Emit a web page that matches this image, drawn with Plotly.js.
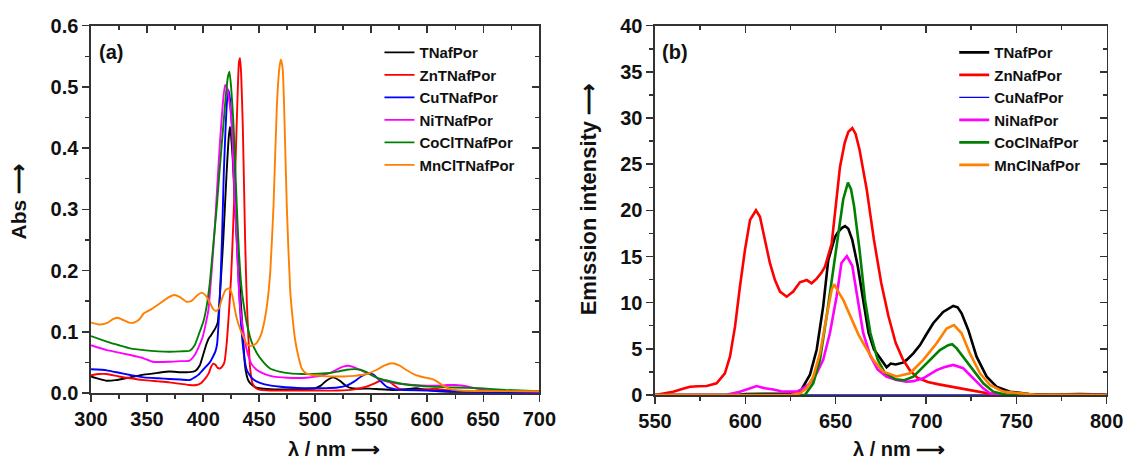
<!DOCTYPE html>
<html>
<head>
<meta charset="utf-8">
<script src="https://cdn.plot.ly/plotly-3.0.1.min.js"></script>
<style>html,body{margin:0;padding:0;background:#fff;}#chart{width:1125px;height:463px;}</style>
</head>
<body>
<div id="chart"></div>
<script>
// ---------- Panel (a): absorption ----------
const absNames = ['TNafPor','ZnTNafPor','CuTNafPor','NiTNafPor','CoClTNafPor','MnClTNafPor'];

const absX_T = [300,307,314,322,335,347,360,370,380,388,393,397,400,403,405,407,409,411,413,415,418,421,423,424,425,426.5,428.6,431,433,435,437.5,440,442,446,450,460,480,500,505,510,516,522,528,533,540,549,558,570,580,590,600,620,650,700];
const absY_T = [0.027,0.023,0.020,0.021,0.0256,0.030,0.033,0.035,0.034,0.034,0.036,0.045,0.062,0.080,0.089,0.094,0.100,0.106,0.115,0.16,0.25,0.36,0.42,0.435,0.42,0.38,0.30,0.23,0.168,0.11,0.043,0.022,0.016,0.010,0.0077,0.006,0.006,0.0077,0.012,0.020,0.0256,0.020,0.011,0.0077,0.007,0.0072,0.006,0.005,0.006,0.008,0.005,0.002,0.002,0.001];

const absX_Zn = [300,307,314,325,335,347,360,370,380,388,394,398,402,405,407,409,411,413,415,417,419,421,423,425,427,429,430.5,432,433,434,435.5,437.5,439,440.5,442,444,447,451,460,480,500,520,535,545,552,558,562,566,570,575,580,590,600,607,615,630,650,700];
const absY_Zn = [0.029,0.031,0.031,0.027,0.024,0.021,0.019,0.0174,0.015,0.013,0.013,0.016,0.024,0.032,0.042,0.048,0.046,0.041,0.040,0.043,0.05,0.08,0.13,0.19,0.28,0.38,0.47,0.54,0.547,0.52,0.43,0.25,0.15,0.087,0.04,0.016,0.008,0.005,0.004,0.004,0.004,0.004,0.006,0.010,0.015,0.020,0.021,0.019,0.013,0.007,0.005,0.005,0.006,0.007,0.005,0.003,0.003,0.002];

const absX_Cu = [300,314,325,335,347,360,370,380,388,392.5,396,400,403,406,409,411,412.5,414,415.5,417,418.5,420,421.5,422.6,424,425.5,426.5,428,430,432,434.5,437,439,442,445,448,455,469,490,510,520,528,535,541,547.6,552,558,564,572,580,600,640,700];
const absY_Cu = [0.0387,0.037,0.033,0.0294,0.0256,0.024,0.0229,0.022,0.0212,0.0256,0.030,0.038,0.044,0.050,0.060,0.068,0.08,0.12,0.18,0.26,0.36,0.43,0.48,0.495,0.48,0.44,0.41,0.35,0.25,0.17,0.0975,0.055,0.0376,0.028,0.022,0.0185,0.014,0.0103,0.008,0.008,0.009,0.012,0.019,0.027,0.032,0.030,0.020,0.010,0.006,0.005,0.004,0.002,0.001];

const absX_Ni = [300,314,325,335,347,355,370,380,388,392.5,396,399.7,402,404.8,406.3,408.5,410.7,413,415.2,417.5,419.6,421.5,423.5,425.6,427,428.6,431,433,436,439,443,448,455,463,475,484,492,500,507,513,520,525,529.7,535,540,546,552,558,566,575,588,600,610,618,625,635,647,660,700];
const absY_Ni = [0.078,0.070,0.066,0.062,0.0567,0.051,0.051,0.052,0.053,0.062,0.075,0.092,0.11,0.136,0.168,0.22,0.277,0.35,0.413,0.47,0.503,0.498,0.475,0.44,0.37,0.304,0.21,0.141,0.1,0.07,0.048,0.0376,0.031,0.0267,0.025,0.0245,0.025,0.0267,0.029,0.0327,0.039,0.043,0.0446,0.042,0.038,0.033,0.028,0.022,0.018,0.015,0.013,0.012,0.012,0.013,0.013,0.011,0.006,0.004,0.002];

const absX_Co = [300,314,325,335,347,360,370,380,388,392.5,397,400,403,406,409,412.2,415,418.2,420.5,422,423.5,425,427.1,430.1,432,434.5,437,439,443,448,454,459.8,468,477.7,488,498.5,513,520,528,535,540,546,552,560,572.6,585,602.7,625,647,670,700];
const absY_Co = [0.093,0.084,0.078,0.073,0.070,0.068,0.0675,0.068,0.069,0.078,0.10,0.115,0.14,0.18,0.24,0.304,0.37,0.44,0.49,0.515,0.525,0.50,0.44,0.304,0.23,0.168,0.135,0.114,0.085,0.065,0.05,0.040,0.035,0.032,0.031,0.031,0.0327,0.035,0.038,0.039,0.038,0.034,0.0277,0.022,0.0168,0.013,0.0104,0.009,0.0077,0.005,0.003];

const absX_Mn = [300,307,314,320,324,329,334,338,343,347,354,361.6,368,374.4,379,385.4,390,395,398.8,402,406,409,411.6,414,417,420,423.5,426,428,430,433,436,438,440.5,443,446.4,449,452,455,457.5,460,462.8,465.8,468,469.4,471,472.3,474.7,477.7,480,482.1,485,488,492,497,505,515,525,535,546,555,562,568.5,575,581,587.8,594,600,604,608.6,614,620.5,630,650,700];
const absY_Mn = [0.115,0.112,0.114,0.121,0.123,0.119,0.115,0.1148,0.12,0.130,0.137,0.1465,0.155,0.160,0.157,0.149,0.151,0.160,0.164,0.160,0.148,0.137,0.134,0.138,0.155,0.168,0.171,0.16,0.14,0.122,0.105,0.092,0.083,0.078,0.077,0.0795,0.085,0.097,0.12,0.15,0.2,0.304,0.468,0.53,0.545,0.53,0.468,0.304,0.168,0.12,0.087,0.06,0.040,0.032,0.0294,0.028,0.027,0.027,0.028,0.031,0.038,0.045,0.0485,0.045,0.038,0.031,0.027,0.0245,0.023,0.019,0.012,0.0065,0.004,0.003,0.003];

// ---------- Panel (b): emission ----------
const emNames = ['TNafPor','ZnNafPor','CuNafPor','NiNafPor','CoClNafPor','MnClNafPor'];

const emX_T = [550,595,600,615,630,632,635.8,639.5,643.1,645.9,649.6,651.2,653.5,655.2,657,659.2,662.2,665.2,668.2,671.2,675.2,678.2,680.5,683.2,687.2,689.3,693,696.7,700,704,709.5,713,715.1,717.5,719.7,723.4,728,733.6,739,746.5,757,770,785,800];
const emY_T = [0,0,0.1,0.15,0.15,0.9,2.2,4.9,9.6,14.6,17.1,17.6,18.1,18.3,18.0,16.8,14.0,10.35,6.74,4.94,3.86,3.0,3.4,3.3,3.5,3.8,4.5,5.4,6.5,7.77,9.0,9.4,9.64,9.5,8.85,7.04,4.15,1.98,0.9,0.36,0.1,0.05,0.1,0.05];

const emX_Zn = [550,555,560.1,565,569.4,574,578.6,584.1,588.7,591.5,594.3,597,599.8,602.6,605.9,608.1,610.9,613.6,616.4,619.2,622.9,626.5,630.2,634,636.7,639.5,642,644.1,647.8,650,652.4,655,657,659.2,661,663.2,667.2,671.2,675.2,679.2,683.2,687.2,691,695.2,701,707.1,717.1,727.1,737,745,800];
const emY_Zn = [0,0.15,0.36,0.65,0.9,0.95,0.97,1.26,2.35,4.15,7.4,11.7,15.7,18.95,20.0,19.3,16.8,14.3,12.45,11.2,10.65,11.2,12.2,12.45,12.1,12.6,13.2,13.9,16.4,20.5,24.7,27.3,28.5,28.9,28.3,26.6,22.25,16.8,12.15,8.55,5.66,3.86,2.7,1.88,1.4,1.15,0.79,0.43,0.07,0,0];

const emX_Cu = [550,800];
const emY_Cu = [0,0];

const emX_Ni = [550,590,597,602.6,606.3,610.9,615.5,621,628.4,632,635.8,639.5,643.1,646.8,650.5,653.2,656.2,659.2,662.2,665.2,669.2,673.2,678,683.7,689.3,693,698.5,705.9,710,715.1,720.6,726.1,731.7,735.4,740,800];
const emY_Ni = [0,0.05,0.36,0.72,0.97,0.72,0.6,0.36,0.36,0.72,1.26,2.35,3.8,6.68,10.65,14.3,15.04,14.0,10.35,6.74,4.22,2.78,2.0,1.62,1.44,1.5,1.8,2.7,3.0,3.25,2.9,1.8,0.72,0.18,0,0];

const emX_Co = [550,633,637.6,641.3,645,648.7,652.4,654.2,656.8,658.5,660.2,663.2,666.2,669.2,673.2,677.2,683.2,688,693,696.7,702.2,707.7,712.3,714.5,717,720.6,726.1,731.7,737.2,745,800];
const emY_Co = [0,0,1.26,3.8,8.5,13.5,18.95,21.2,23.0,22.3,20.45,15.76,10.35,6.74,3.86,2.4,1.7,1.6,1.98,2.7,3.8,4.87,5.4,5.5,5.05,4.15,2.7,1.26,0.36,0,0];

const emX_Mn = [550,625,630.2,634,637.6,641.3,645,647.8,649.2,650.5,652,654.2,657,659.7,662.5,665.3,670.8,676.3,683.7,691.1,698.5,705.9,711.4,715.5,719.7,724.3,729.9,735.4,742.8,760,800];
const emY_Mn = [0,0,0.18,0.72,1.98,4.5,8.5,11.4,12.0,11.6,11.0,10.3,9.0,7.77,6.6,5.6,3.8,2.53,2.0,2.35,3.8,5.6,7.2,7.58,6.68,4.5,2.35,1.08,0.36,0.05,0];

const colors = ['#000000','#ff0000','#0000ff','#ff00ff','#008000','#ff8000'];

const absXs = [absX_T,absX_Zn,absX_Cu,absX_Ni,absX_Co,absX_Mn];
const absYs = [absY_T,absY_Zn,absY_Cu,absY_Ni,absY_Co,absY_Mn];
const emXs = [emX_T,emX_Zn,emX_Cu,emX_Ni,emX_Co,emX_Mn];
const emYs = [emY_T,emY_Zn,emY_Cu,emY_Ni,emY_Co,emY_Mn];

const FONT = 'Liberation Sans, Arial, Helvetica, sans-serif';
const traces = [];
absNames.forEach((n,i)=>{
  traces.push({x:absXs[i], y:absYs[i], type:'scatter', mode:'lines', name:n,
    line:{color:colors[i], width:1.9, shape:'spline', smoothing:0.5},
    xaxis:'x', yaxis:'y', legend:'legend', legendrank:i+1});
});
// draw the flat Cu emission trace first so it sits beneath the others (it lies on the axis)
const emOrder = [2,0,1,3,4,5];
emOrder.forEach((i)=>{
  traces.push({x:emXs[i], y:emYs[i], type:'scatter', mode:'lines', name:emNames[i],
    line:{color:colors[i], width:(i===2 ? 1.4 : 2.6)},
    xaxis:'x2', yaxis:'y2', legend:'legend2', legendrank:i+1});
});
// helper traces so the inside tick axes (top/right) get drawn
traces.push({x:[],y:[],xaxis:'x3',yaxis:'y',showlegend:false,hoverinfo:'skip'});
traces.push({x:[],y:[],xaxis:'x',yaxis:'y3',showlegend:false,hoverinfo:'skip'});
traces.push({x:[],y:[],xaxis:'x4',yaxis:'y2',showlegend:false,hoverinfo:'skip'});
traces.push({x:[],y:[],xaxis:'x2',yaxis:'y4',showlegend:false,hoverinfo:'skip'});

const AX = '#333333';
const tickFont = {family:FONT, size:20, color:'#111', weight:'bold'};
function mainAxis(o){
  return Object.assign({showgrid:false, zeroline:false, showline:true, linecolor:AX, linewidth:1.6,
    mirror:true, ticks:'outside', ticklen:7, tickwidth:1.5, tickcolor:AX, tickfont:tickFont}, o);
}
function insideAxis(o){
  return Object.assign({showgrid:false, zeroline:false, showline:false, showticklabels:false,
    ticks:'inside', ticklen:7, tickwidth:1.5, tickcolor:AX}, o);
}
const minorOut = (d)=>({dtick:d, ticks:'outside', ticklen:4, tickwidth:1.5, tickcolor:AX, showgrid:false});
const minorIn = (d)=>({dtick:d, ticks:'inside', ticklen:4, tickwidth:1.5, tickcolor:AX, showgrid:false});

const legFont = {family:FONT, size:15, color:'#111', weight:'bold'};
const annFont = (s)=>({family:FONT, size:s, color:'#111', weight:'bold'});

const layout = {
  width:1125, height:463,
  margin:{l:0,r:0,t:0,b:0},
  paper_bgcolor:'#ffffff', plot_bgcolor:'#ffffff',
  showlegend:true,
  xaxis: mainAxis({domain:[0.0809,0.4794], range:[300,700], anchor:'y', dtick:50, tick0:300, minor:minorOut(25)}),
  yaxis: mainAxis({domain:[0.1512,0.9445], range:[0,0.6], anchor:'x', dtick:0.1, tick0:0, tickformat:'.1f', minor:minorOut(0.05)}),
  xaxis3: insideAxis({overlaying:'x', side:'top', anchor:'y', range:[300,700], dtick:50, tick0:300, minor:minorIn(25)}),
  yaxis3: insideAxis({overlaying:'y', side:'right', anchor:'x', range:[0,0.6], dtick:0.1, tick0:0, minor:minorIn(0.05)}),
  xaxis2: mainAxis({domain:[0.5822,0.9837], range:[550,800], anchor:'y2', dtick:50, tick0:550, minor:minorOut(25)}),
  yaxis2: mainAxis({domain:[0.1469,0.9445], range:[0,40], anchor:'x2', dtick:5, tick0:0, minor:minorOut(2.5)}),
  xaxis4: insideAxis({overlaying:'x2', side:'top', anchor:'y2', range:[550,800], dtick:50, tick0:550, minor:minorIn(25)}),
  yaxis4: insideAxis({overlaying:'y2', side:'right', anchor:'x2', range:[0,40], dtick:5, tick0:0, minor:minorIn(2.5)}),
  legend: {x:0.3373, y:0.922, xanchor:'left', yanchor:'top', bgcolor:'rgba(0,0,0,0)', borderwidth:0, font:legFont, tracegroupgap:0},
  legend2: {x:0.8482, y:0.922, xanchor:'left', yanchor:'top', bgcolor:'rgba(0,0,0,0)', borderwidth:0, font:legFont, tracegroupgap:0},
  annotations: [
    {text:'(a)', xref:'paper', yref:'paper', x:0.0991, y:0.8877, showarrow:false, font:annFont(20), xanchor:'center', yanchor:'middle'},
    {text:'(b)', xref:'paper', yref:'paper', x:0.6003, y:0.8877, showarrow:false, font:annFont(20), xanchor:'center', yanchor:'middle'},
    {text:'Abs \u27F6', xref:'paper', yref:'paper', x:0.016, y:0.5648, textangle:-90, showarrow:false, font:annFont(21), xanchor:'center', yanchor:'middle'},
    {text:'Emission intensity \u27F6', xref:'paper', yref:'paper', x:0.5234, y:0.5713, textangle:-90, showarrow:false, font:annFont(22), xanchor:'center', yanchor:'middle'},
    {text:'\u03BB / nm \u27F6', xref:'paper', yref:'paper', x:0.2969, y:0.030, showarrow:false, font:annFont(20), xanchor:'center', yanchor:'middle'},
    {text:'\u03BB / nm \u27F6', xref:'paper', yref:'paper', x:0.799, y:0.030, showarrow:false, font:annFont(20), xanchor:'center', yanchor:'middle'}
  ]
};

Plotly.newPlot('chart', traces, layout, {displayModeBar:false, staticPlot:true});
</script>
</body>
</html>
